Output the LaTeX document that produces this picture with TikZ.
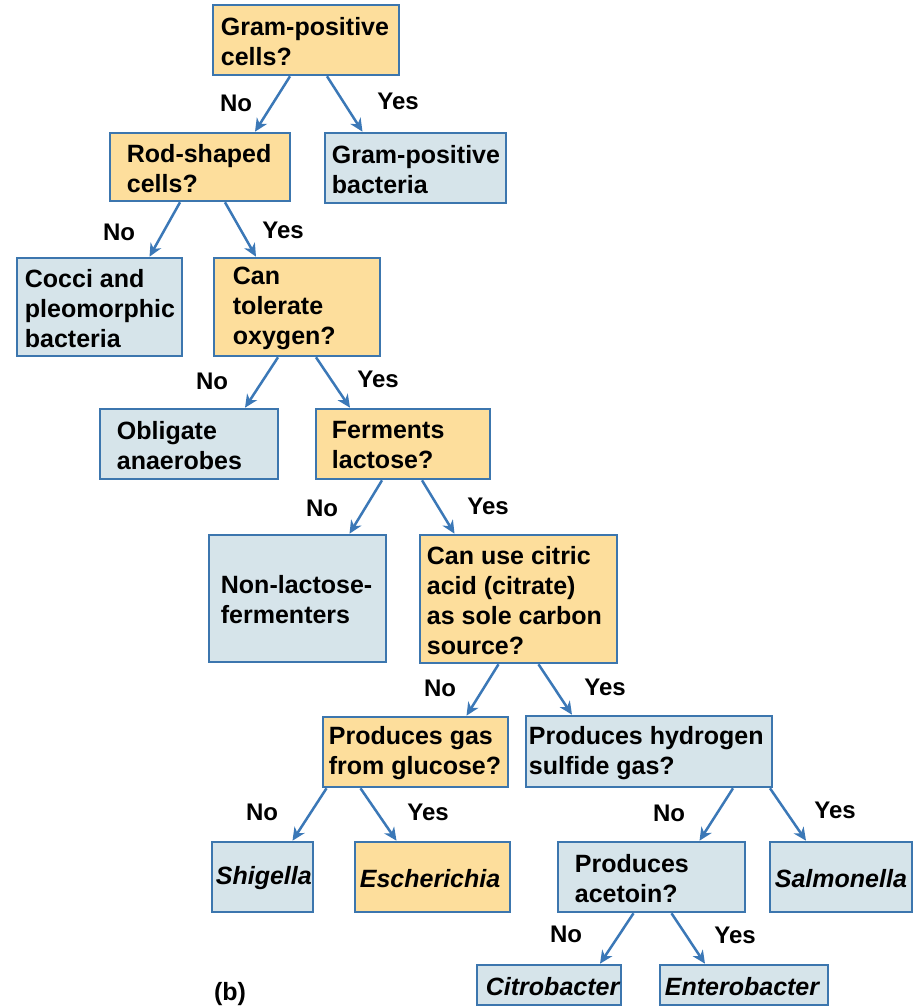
\documentclass[tikz,border=0pt]{standalone}
\usepackage{fontspec}
\setmainfont{Liberation Sans}
\usetikzlibrary{arrows.meta}
\definecolor{orfill}{HTML}{FDDE9C}
\definecolor{blfill}{HTML}{D6E4EA}
\definecolor{edgecol}{HTML}{3C76AE}
\definecolor{arrcol}{HTML}{3B78B7}
\newcommand\mkbox[8]{%
  \node[boxbase, fill=#6, minimum width={#4pt-#2pt}, minimum height={#5pt-#3pt}]
    (#1) at ({(#2+#4)/2},{(#3+#5)/2}) {};
  \node[txt, anchor=west] (t#1) at ([xshift=#7pt,yshift=-1.5pt]#1.west) {#8};}
\begin{document}
\begin{tikzpicture}[x=1pt,y=-1pt,
  boxbase/.style={draw=edgecol, line width=2.6pt, inner sep=0pt},
  txt/.style={inner sep=0pt, align=left, font=\fontsize{25}{30}\selectfont\bfseries},
  lbl/.style={inner sep=0pt, font=\fontsize{24}{28}\selectfont\bfseries},
  arr/.style={draw=arrcol, line width=2.5pt, -{Stealth[length=13pt,width=12pt,inset=4pt]}}]
\fill[white] (0,0) rectangle (923,1008);
\useasboundingbox (0,0) rectangle (923,1008);

\mkbox{n1}{213}{5}{399}{75}{orfill}{9}{Gram-positive\\cells?}
\mkbox{n2}{110}{133}{290}{201}{orfill}{18}{Rod-shaped\\cells?}
\mkbox{n3}{325}{133}{506}{203}{blfill}{8}{Gram-positive\\bacteria}
\mkbox{n4}{17}{258}{182}{356}{blfill}{9}{Cocci and\\pleomorphic\\bacteria}
\mkbox{n5}{214}{258}{380}{356}{orfill}{20}{Can\\tolerate\\oxygen?}
\mkbox{n6}{100}{409}{278}{479}{blfill}{18}{Obligate\\anaerobes}
\mkbox{n7}{316}{409}{490}{479}{orfill}{17}{Ferments\\lactose?}
\mkbox{n8}{209}{535}{386}{662}{blfill}{13}{Non-lactose-\\fermenters}
\mkbox{n9}{420}{535}{617}{663}{orfill}{8}{Can use citric\\acid (citrate)\\as sole carbon\\source?}
\mkbox{n10}{323}{717}{508}{787}{orfill}{7}{Produces gas\\from glucose?}
\mkbox{n11}{526}{716}{772}{787}{blfill}{4}{Produces hydrogen\\sulfide gas?}
\mkbox{n12}{212}{842}{313}{912}{blfill}{5}{\itshape Shigella}
\mkbox{n13}{355}{842}{510}{912}{orfill}{6}{\itshape Escherichia}
\mkbox{n14}{558}{842}{745}{912}{blfill}{18}{Produces\\acetoin?}
\mkbox{n15}{770}{842}{912}{912}{blfill}{6}{\itshape Salmonella}
\mkbox{n16}{477}{965}{621}{1005}{blfill}{10}{\itshape Citrobacter}
\mkbox{n17}{660}{965}{828}{1005}{blfill}{6}{\itshape Enterobacter}

\draw[arr] ([xshift=-16pt]n1.south) -- ([xshift=55pt]n2.north);
\draw[arr] ([xshift=21pt]n1.south) -- ([xshift=-53pt]n3.north);
\draw[arr] ([xshift=-20pt]n2.south) -- ([xshift=50pt]n4.north);
\draw[arr] ([xshift=25pt]n2.south) -- ([xshift=-41pt]n5.north);
\draw[arr] ([xshift=-19pt]n5.south) -- ([xshift=56pt]n6.north);
\draw[arr] ([xshift=19pt]n5.south) -- ([xshift=-53pt]n7.north);
\draw[arr] ([xshift=-21pt]n7.south) -- ([xshift=52pt]n8.north);
\draw[arr] ([xshift=19pt]n7.south) -- ([xshift=-64pt]n9.north);
\draw[arr] ([xshift=-20pt]n9.south) -- ([xshift=51pt]n10.north);
\draw[arr] ([xshift=20pt]n9.south) -- ([xshift=-77pt]n11.north);
\draw[arr] ([xshift=-89pt]n10.south) -- ([xshift=30pt]n12.north);
\draw[arr] ([xshift=-55pt]n10.south) -- ([xshift=-36pt]n13.north);
\draw[arr] ([xshift=84pt]n11.south) -- ([xshift=48pt]n14.north);
\draw[arr] ([xshift=121pt]n11.south) -- ([xshift=-35pt]n15.north);
\draw[arr] ([xshift=-18pt]n14.south) -- ([xshift=51pt]n16.north);
\draw[arr] ([xshift=20pt]n14.south) -- ([xshift=-39pt]n17.north);

\node[lbl] (l1) at (236,103) {No};
\node[lbl] (l2) at (398,101) {Yes};
\node[lbl] (l3) at (119,232) {No};
\node[lbl] (l4) at (283,230) {Yes};
\node[lbl] (l5) at (212,381) {No};
\node[lbl] (l6) at (378,379) {Yes};
\node[lbl] (l7) at (322,508) {No};
\node[lbl] (l8) at (488,506) {Yes};
\node[lbl] (l9) at (440,688) {No};
\node[lbl] (l10) at (605,687) {Yes};
\node[lbl] (l11) at (262,812) {No};
\node[lbl] (l12) at (428,812) {Yes};
\node[lbl] (l13) at (669,813) {No};
\node[lbl] (l14) at (835,810) {Yes};
\node[lbl] (l15) at (566,934) {No};
\node[lbl] (l16) at (735,935) {Yes};
\node[lbl, font=\fontsize{25}{29}\selectfont\bfseries] (lb) at (230,994) {(b)};
\end{tikzpicture}
\end{document}
